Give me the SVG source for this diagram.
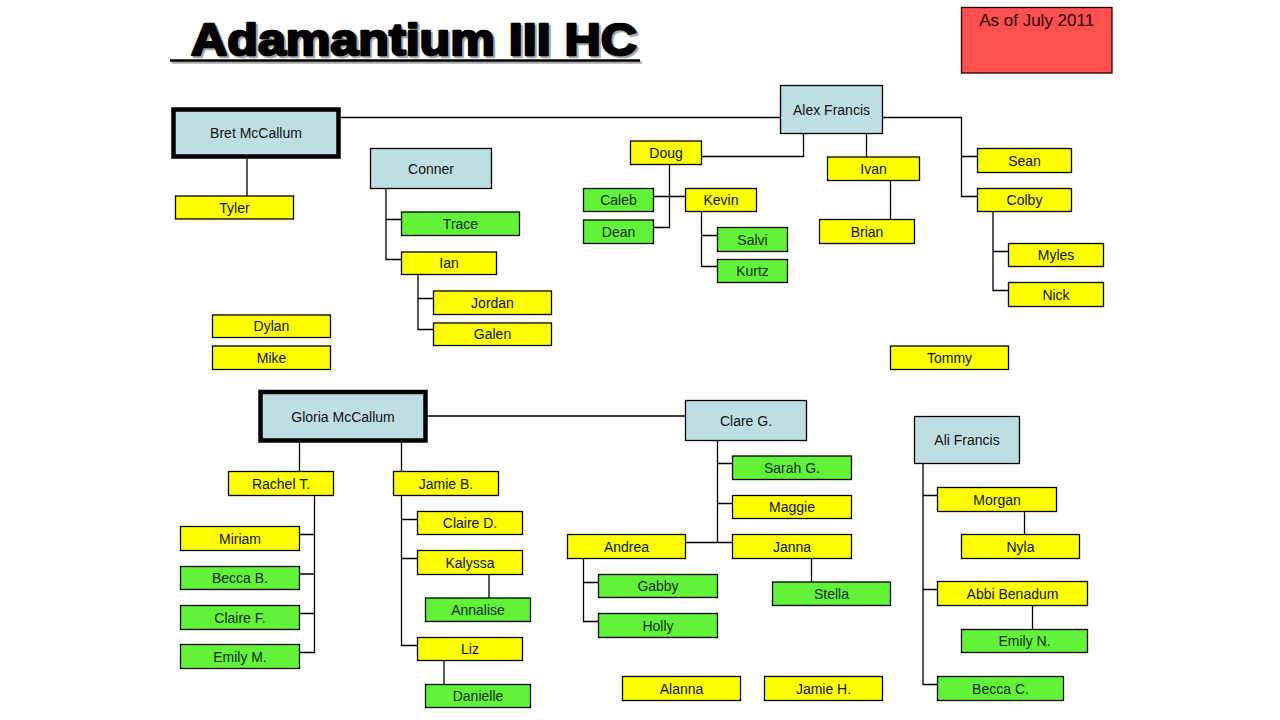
<svg xmlns="http://www.w3.org/2000/svg" width="1280" height="720" viewBox="0 0 1280 720">
<style>
  .n rect { stroke: #000; stroke-width: 1.3; }
  .y rect { fill: #FFFF00; }
  .g rect { fill: #62F23A; }
  .b rect { fill: #BDDFE3; }
  .thick rect { stroke-width: 4.5; }
  .n text { font-family: "Liberation Sans", Arial, sans-serif; font-size: 14px; fill: #111; text-anchor: middle; }
  .g text { fill: #1a2a10; }
  #connectors path { fill: none; stroke: #000; stroke-width: 1.3; }
  .title { font-family: "Liberation Sans", Arial, sans-serif; font-weight: bold; font-size: 44px; stroke-linejoin: round; }
</style>
<rect width="1280" height="720" fill="#FFFFFF"/>

<g id="title">
  <text class="title" x="193" y="57" fill="#A8A8A8" stroke="#A8A8A8" stroke-width="2.4" textLength="446" lengthAdjust="spacingAndGlyphs">Adamantium III HC</text>
  <line x1="172" y1="62.5" x2="642" y2="62.5" stroke="#A8A8A8" stroke-width="2.5"/>
  <text class="title" x="191" y="55" fill="#000" stroke="#000" stroke-width="2.4" textLength="446" lengthAdjust="spacingAndGlyphs">Adamantium III HC</text>
  <line x1="170" y1="60.5" x2="640" y2="60.5" stroke="#000" stroke-width="2.5"/>
</g>

<g id="date-note">
  <rect x="961.5" y="7.5" width="150.5" height="65.5" fill="#FF5050" stroke="#200" stroke-width="1.3"/>
  <text x="1036.7" y="25.5" font-family="Liberation Sans, Arial, sans-serif" font-size="17" fill="#2a0000" text-anchor="middle">As of July 2011</text>
</g>

<g id="connectors">
  <path d="M340.7 117.5 H780.5"/>
  <path d="M247 159 V196"/>
  <path d="M386 188.5 V259.5 H401.5 M386 219.5 H401.5"/>
  <path d="M418 274.5 V329.5 H433.5 M418 298.5 H433.5"/>
  <path d="M803.5 133.5 V156.5 H701.5"/>
  <path d="M866.5 133.5 V157"/>
  <path d="M890.5 180.5 V219.5"/>
  <path d="M882.5 117.5 H961.5 V196.5 H977.5 M961.5 156.5 H977.5"/>
  <path d="M993 211.5 V290.5 H1008.5 M993 251.5 H1008.5"/>
  <path d="M669.5 164.5 V227.5 H653.5 M653.5 196.5 H685.5"/>
  <path d="M701.5 211.5 V266.5 H717.5 M701.5 235.5 H717.5"/>
  <path d="M427.7 416 H685.5"/>
  <path d="M299.5 442.7 V471.5 M401.5 442.7 V471.5"/>
  <path d="M314.5 495.5 V652.5 H299.5 M314.5 534.5 H299.5 M314.5 574 H299.5 M314.5 613.5 H299.5"/>
  <path d="M401.5 495.5 V645.5 H417.5 M401.5 519.5 H417.5 M401.5 558.5 H417.5"/>
  <path d="M489 574.5 V598"/>
  <path d="M444 660.5 V684.5"/>
  <path d="M717.5 440.5 V542.5 M717.5 463.5 H732.5 M717.5 503.5 H732.5 M685.5 542.5 H732.5"/>
  <path d="M583.5 558.5 V621.5 H598.5 M583.5 582.5 H598.5"/>
  <path d="M811.5 558.5 V582"/>
  <path d="M923 463.5 V684.5 H937.5 M923 495.5 H937.5 M923 589.5 H937.5"/>
  <path d="M1024.5 511.5 V534.5"/>
  <path d="M1032.5 605.5 V629.5"/>
</g>

<g id="bret" class="n b thick"><rect x="173.5" y="109.5" width="165" height="47"/><text x="256" y="138">Bret McCallum</text></g>
<g id="tyler" class="n y"><rect x="175.5" y="196" width="118" height="23"/><text x="234.5" y="212.5">Tyler</text></g>
<g id="conner" class="n b"><rect x="370.5" y="148.5" width="121" height="40"/><text x="431" y="173.5">Conner</text></g>
<g id="trace" class="n g"><rect x="401.5" y="212" width="118" height="23.5"/><text x="460.5" y="228.5">Trace</text></g>
<g id="ian" class="n y"><rect x="401.5" y="252" width="95" height="22.5"/><text x="449" y="268">Ian</text></g>
<g id="jordan" class="n y"><rect x="433.5" y="291" width="118" height="23.5"/><text x="492.5" y="307.5">Jordan</text></g>
<g id="galen" class="n y"><rect x="433.5" y="323" width="118" height="22.5"/><text x="492.5" y="339">Galen</text></g>
<g id="dylan" class="n y"><rect x="212.5" y="315" width="118" height="22.5"/><text x="271.5" y="331">Dylan</text></g>
<g id="mike" class="n y"><rect x="212.5" y="346" width="118" height="23.5"/><text x="271.5" y="362.5">Mike</text></g>
<g id="alex" class="n b"><rect x="780.5" y="85.5" width="102" height="48"/><text x="831.5" y="114.5">Alex Francis</text></g>
<g id="doug" class="n y"><rect x="630.5" y="141" width="71" height="23.5"/><text x="666" y="157.5">Doug</text></g>
<g id="caleb" class="n g"><rect x="583.5" y="188.5" width="70" height="23"/><text x="618.5" y="205">Caleb</text></g>
<g id="dean" class="n g"><rect x="583.5" y="220" width="70" height="23.5"/><text x="618.5" y="236.5">Dean</text></g>
<g id="kevin" class="n y"><rect x="685.5" y="188.5" width="71" height="23"/><text x="721" y="205">Kevin</text></g>
<g id="salvi" class="n g"><rect x="717.5" y="227.5" width="70" height="24"/><text x="752.5" y="244.5">Salvi</text></g>
<g id="kurtz" class="n g"><rect x="717.5" y="259.5" width="70" height="23"/><text x="752.5" y="276">Kurtz</text></g>
<g id="ivan" class="n y"><rect x="827.5" y="157" width="92" height="23.5"/><text x="873.5" y="173.5">Ivan</text></g>
<g id="brian" class="n y"><rect x="819.5" y="219.5" width="95" height="24"/><text x="867" y="236.5">Brian</text></g>
<g id="sean" class="n y"><rect x="977.5" y="148.5" width="94" height="24"/><text x="1024.5" y="165.5">Sean</text></g>
<g id="colby" class="n y"><rect x="977.5" y="188.5" width="94" height="23"/><text x="1024.5" y="205">Colby</text></g>
<g id="myles" class="n y"><rect x="1008.5" y="243.5" width="95" height="23"/><text x="1056" y="260">Myles</text></g>
<g id="nick" class="n y"><rect x="1008.5" y="282.5" width="95" height="24"/><text x="1056" y="299.5">Nick</text></g>
<g id="tommy" class="n y"><rect x="890.5" y="346" width="118" height="23.5"/><text x="949.5" y="362.5">Tommy</text></g>

<g id="gloria" class="n b thick"><rect x="260.5" y="392" width="165" height="48.5"/><text x="343" y="421.5">Gloria McCallum</text></g>
<g id="rachel" class="n y"><rect x="228.5" y="471.5" width="105" height="24"/><text x="281" y="488.5">Rachel T.</text></g>
<g id="jamieb" class="n y"><rect x="393.5" y="471.5" width="105" height="24"/><text x="446" y="488.5">Jamie B.</text></g>
<g id="miriam" class="n y"><rect x="180.5" y="526.5" width="119" height="24"/><text x="240" y="543.5">Miriam</text></g>
<g id="beccab" class="n g"><rect x="180.5" y="566.5" width="119" height="23"/><text x="240" y="583">Becca B.</text></g>
<g id="clairef" class="n g"><rect x="180.5" y="605.5" width="119" height="24"/><text x="240" y="622.5">Claire F.</text></g>
<g id="emilym" class="n g"><rect x="180.5" y="644.5" width="119" height="24"/><text x="240" y="661.5">Emily M.</text></g>
<g id="claired" class="n y"><rect x="417.5" y="511.5" width="105" height="23"/><text x="470" y="528">Claire D.</text></g>
<g id="kalyssa" class="n y"><rect x="417.5" y="550.5" width="105" height="24"/><text x="470" y="567.5">Kalyssa</text></g>
<g id="annalise" class="n g"><rect x="425.5" y="598" width="105" height="23.5"/><text x="478" y="614.5">Annalise</text></g>
<g id="liz" class="n y"><rect x="417.5" y="637.5" width="105" height="23"/><text x="470" y="654">Liz</text></g>
<g id="danielle" class="n g"><rect x="425.5" y="684.5" width="105" height="23"/><text x="478" y="701">Danielle</text></g>
<g id="clareg" class="n b"><rect x="685.5" y="400.5" width="121" height="40"/><text x="746" y="425.5">Clare G.</text></g>
<g id="sarahg" class="n g"><rect x="732.5" y="456" width="119" height="23.5"/><text x="792" y="472.5">Sarah G.</text></g>
<g id="maggie" class="n y"><rect x="732.5" y="495.5" width="119" height="23"/><text x="792" y="512">Maggie</text></g>
<g id="janna" class="n y"><rect x="732.5" y="534.5" width="119" height="24"/><text x="792" y="551.5">Janna</text></g>
<g id="andrea" class="n y"><rect x="567.5" y="534.5" width="118" height="24"/><text x="626.5" y="551.5">Andrea</text></g>
<g id="gabby" class="n g"><rect x="598.5" y="574.5" width="119" height="23"/><text x="658" y="591">Gabby</text></g>
<g id="holly" class="n g"><rect x="598.5" y="613.5" width="119" height="24"/><text x="658" y="630.5">Holly</text></g>
<g id="stella" class="n g"><rect x="772.5" y="582" width="118" height="23.5"/><text x="831.5" y="598.5">Stella</text></g>
<g id="alanna" class="n y"><rect x="622.5" y="676.5" width="118" height="24"/><text x="681.5" y="693.5">Alanna</text></g>
<g id="jamieh" class="n y"><rect x="764.5" y="676.5" width="118" height="24"/><text x="823.5" y="693.5">Jamie H.</text></g>
<g id="ali" class="n b"><rect x="914.5" y="416.5" width="105" height="47"/><text x="967" y="445">Ali Francis</text></g>
<g id="morgan" class="n y"><rect x="937.5" y="487.5" width="119" height="24"/><text x="997" y="504.5">Morgan</text></g>
<g id="nyla" class="n y"><rect x="961.5" y="534.5" width="118" height="24"/><text x="1020.5" y="551.5">Nyla</text></g>
<g id="abbi" class="n y"><rect x="937.5" y="581.5" width="150" height="24"/><text x="1012.5" y="598.5">Abbi Benadum</text></g>
<g id="emilyn" class="n g"><rect x="961.5" y="629.5" width="126" height="23"/><text x="1024.5" y="646">Emily N.</text></g>
<g id="beccac" class="n g"><rect x="937.5" y="676.5" width="126" height="24"/><text x="1000.5" y="693.5">Becca C.</text></g>
</svg>
